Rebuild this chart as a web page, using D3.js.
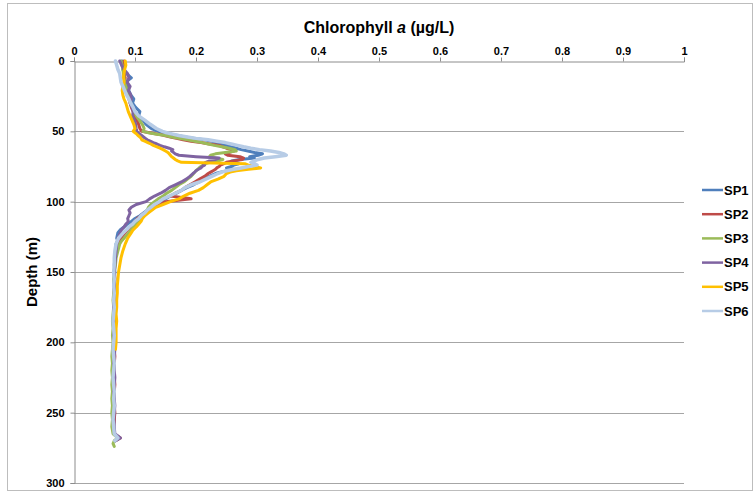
<!DOCTYPE html>
<html>
<head>
<meta charset="utf-8">
<script src="https://cdn.jsdelivr.net/npm/d3@7"></script>
<style>
  html, body { margin: 0; padding: 0; background: #fff; }
  svg text { font-family: Arial, "Liberation Sans", sans-serif; font-weight: bold; fill: #000; }
</style>
</head>
<body>
<svg id="chart" width="756" height="494"></svg>
<script>
// ---- data ----
const depth = [0,3,6,9,12,15,18,21,24,27,30,33,36,39,42,45,48,
  50,51,52,53,54,55,56,57,58,59,60,61,62,63,64,65,66,67,68,69,70,71,72,73,74,75,76,77,78,79,80,
  82,84,86,88,90,92,94,96,98,100,102,104,106,108,110,112,114,116,118,120,122,124,126,128,130,
  135,140,145,150,155,160,165,170,175,180,185,190,195,200,205,210,215,220,225,230,235,240,245,250,255,260,265,268,270,272,274];

const seriesNames = ["SP1","SP2","SP3","SP4","SP5","SP6"];
const seriesColors = ["#4F7FBC","#BE4B48","#9BBB59","#7F63A1","#FFC000","#B7CCE6"];

const sp1 = [0.079,0.081,0.080,0.086,0.094,0.085,0.088,0.090,0.093,0.098,0.096,0.101,0.108,0.106,0.113,0.118,0.127,
  0.138,0.146,0.158,0.170,0.182,0.198,0.214,0.226,0.232,0.243,0.251,0.258,0.266,0.274,0.285,0.296,0.309,0.302,0.288,0.296,0.272,0.258,0.265,0.270,0.262,0.258,0.250,0.262,0.252,0.240,0.232,
  0.222,0.214,0.205,0.196,0.185,0.176,0.168,0.158,0.150,0.142,0.135,0.128,0.120,0.114,0.108,0.100,0.094,0.088,0.082,0.076,0.072,0.071,0.070,0.072,0.069,
  0.068,0.067,0.066,0.067,0.066,0.065,0.066,0.065,0.066,0.065,0.064,0.065,0.066,0.065,0.064,0.065,0.066,0.065,0.064,0.065,0.066,0.065,0.064,0.065,0.066,0.065,0.066,0.074,0.068,null,null];

const sp2 = [0.082,0.083,0.081,0.082,0.084,0.083,0.085,0.086,0.088,0.090,0.092,0.094,0.097,0.100,0.103,0.106,0.108,
  0.111,0.124,0.138,0.148,0.158,0.168,0.179,0.192,0.208,0.222,0.238,0.244,0.250,0.258,0.262,0.255,0.248,0.252,0.272,0.278,0.276,0.262,0.250,0.246,0.240,0.238,0.234,0.232,0.228,0.224,0.220,
  0.214,0.206,0.198,0.190,0.182,0.176,0.166,0.158,0.192,0.150,0.140,0.130,0.122,0.116,0.110,0.104,0.100,0.096,0.092,0.088,0.084,0.080,0.077,0.075,0.073,
  0.070,0.068,0.067,0.066,0.067,0.066,0.065,0.067,0.066,0.065,0.066,0.067,0.066,0.065,0.066,0.067,0.066,0.065,0.066,0.067,0.066,0.065,0.066,0.067,0.066,0.065,0.066,0.076,0.068,null,null];

const sp3 = [0.077,0.079,0.080,0.081,0.082,0.083,0.085,0.087,0.089,0.091,0.093,0.096,0.099,0.102,0.107,0.112,0.115,
  0.113,0.122,0.136,0.150,0.160,0.172,0.186,0.198,0.210,0.220,0.230,0.242,0.254,0.264,0.266,0.248,0.232,0.224,0.222,0.232,0.244,0.236,0.222,0.216,0.212,0.208,0.205,0.203,0.200,0.198,0.196,
  0.192,0.186,0.180,0.172,0.166,0.160,0.152,0.146,0.138,0.132,0.126,0.122,0.120,0.117,0.114,0.111,0.106,0.102,0.098,0.094,0.090,0.086,0.082,0.078,0.075,
  0.072,0.069,0.068,0.066,0.065,0.066,0.065,0.064,0.065,0.064,0.063,0.064,0.063,0.064,0.063,0.062,0.063,0.062,0.063,0.062,0.063,0.062,0.063,0.062,0.063,0.062,0.064,0.072,0.066,0.064,0.066];

const sp4 = [0.075,0.078,0.082,0.088,0.090,0.087,0.092,0.089,0.093,0.094,0.092,0.095,0.097,0.096,0.099,0.101,0.102,
  0.103,0.105,0.108,0.111,0.114,0.117,0.120,0.125,0.130,0.136,0.141,0.148,0.156,0.162,0.160,0.163,0.166,0.172,0.200,0.238,0.232,0.222,0.216,0.212,0.214,0.210,0.208,0.204,0.200,0.198,0.195,
  0.190,0.184,0.176,0.166,0.156,0.150,0.142,0.132,0.124,0.118,0.102,0.094,0.090,0.092,0.090,0.088,0.089,0.085,0.082,0.078,0.076,0.074,0.072,0.071,0.070,
  0.069,0.068,0.067,0.066,0.067,0.066,0.067,0.066,0.065,0.066,0.067,0.066,0.065,0.066,0.067,0.066,0.065,0.066,0.067,0.066,0.065,0.066,0.067,0.066,0.065,0.066,0.067,0.076,0.068,null,null];

const sp5 = [0.084,0.085,0.083,0.082,0.081,0.082,0.080,0.079,0.080,0.082,0.085,0.087,0.089,0.092,0.095,0.098,0.100,
  0.097,0.100,0.103,0.105,0.108,0.110,0.111,0.116,0.121,0.126,0.130,0.136,0.141,0.146,0.150,0.154,0.156,0.158,0.160,0.163,0.166,0.170,0.176,0.280,0.286,0.296,0.306,0.286,0.266,0.256,0.250,
  0.246,0.236,0.224,0.218,0.212,0.204,0.190,0.180,0.172,0.158,0.146,0.134,0.128,0.122,0.116,0.112,0.110,0.106,0.102,0.097,0.094,0.091,0.088,0.086,0.084,
  0.080,0.077,0.075,0.073,0.072,0.071,0.071,0.070,0.070,0.069,0.070,0.069,0.069,0.069,0.068,null,null,null,null,null,null,null,null,null,null,null,null,null,null,null,null];

const sp6 = [0.068,0.070,0.072,0.075,0.076,0.077,0.080,0.083,0.086,0.090,0.093,0.097,0.100,0.106,0.116,0.125,0.135,
  0.145,0.152,0.162,0.172,0.186,0.200,0.220,0.234,0.248,0.258,0.268,0.278,0.290,0.304,0.322,0.336,0.344,0.348,0.330,0.312,0.302,0.296,0.290,0.296,0.300,0.286,0.274,0.262,0.250,0.242,0.236,
  0.226,0.216,0.206,0.192,0.182,0.176,0.166,0.156,0.146,0.140,0.132,0.126,0.120,0.116,0.110,0.106,0.100,0.096,0.090,0.086,0.081,0.077,0.073,0.071,0.069,
  0.067,0.066,0.066,0.065,0.066,0.065,0.066,0.065,0.066,0.065,0.064,0.065,0.066,0.065,0.064,0.065,0.066,0.065,0.064,0.065,0.066,0.065,0.066,0.065,0.064,0.065,0.066,0.072,0.067,null,null];

const xTicks = [0,0.1,0.2,0.3,0.4,0.5,0.6,0.7,0.8,0.9,1];
const yTicks = [0,50,100,150,200,250,300];

// ---- chart ----
const svg = d3.select("#chart");
const pLeft = 74, pRight = 684, pTop = 61, pBottom = 483;
const x = d3.scaleLinear().domain([0,1]).range([pLeft,pRight]);
const y = d3.scaleLinear().domain([0,300]).range([pTop,pBottom]);

// outer frame
svg.append("rect").attr("x",7.5).attr("y",3.5).attr("width",745).attr("height",487)
  .attr("fill","none").attr("stroke","#bdbdbd");

// gridlines
svg.append("g").selectAll("line").data(yTicks.slice(1)).join("line")
  .attr("x1",pLeft).attr("x2",pRight)
  .attr("y1",d=>Math.round(y(d))+0.5).attr("y2",d=>Math.round(y(d))+0.5)
  .attr("stroke","#a6a6a6").attr("stroke-width",1);

// top axis
const xAxis = d3.axisTop(x).tickValues(xTicks).tickSize(4).tickPadding(3)
  .tickFormat(d => d3.format("")(d));
const gx = svg.append("g").attr("transform",`translate(0,${pTop+0.5})`).call(xAxis);
gx.select(".domain").attr("stroke","#8c8c8c");
gx.selectAll(".tick line").attr("stroke","#8c8c8c");
gx.selectAll(".tick text").attr("font-size",11).attr("font-weight","bold")
  .attr("font-family","Arial, 'Liberation Sans', sans-serif").attr("fill","#000");

// left axis
const yAxis = d3.axisLeft(y).tickValues(yTicks).tickSize(4).tickPadding(6);
const gy = svg.append("g").attr("transform",`translate(${pLeft+0.5},0)`).call(yAxis);
gy.select(".domain").attr("stroke","#8c8c8c");
gy.selectAll(".tick line").attr("stroke","#8c8c8c");
gy.selectAll(".tick text").attr("font-size",11).attr("font-weight","bold")
  .attr("font-family","Arial, 'Liberation Sans', sans-serif").attr("fill","#000");

// series lines
const allSeries = [sp1,sp2,sp3,sp4,sp5,sp6];
const line = d3.line()
  .defined(d => d.v !== null)
  .x(d => x(d.v)).y(d => y(d.d));
allSeries.forEach((vals,i) => {
  const pts = depth.map((d,j) => ({d:d, v:vals[j]}));
  svg.append("path").datum(pts)
    .attr("d", line)
    .attr("fill","none")
    .attr("stroke", seriesColors[i])
    .attr("stroke-width", i===5 ? 3.5 : 3)
    .attr("stroke-linejoin","round")
    .attr("stroke-linecap","round");
});

// titles
const t = svg.append("text").attr("x",(pLeft+pRight)/2).attr("y",33)
  .attr("text-anchor","middle").attr("font-size",16);
t.append("tspan").text("Chlorophyll ");
t.append("tspan").attr("font-style","italic").text("a");
t.append("tspan").text(" (µg/L)");

svg.append("text").attr("transform",`translate(37,${(pTop+pBottom)/2}) rotate(-90)`)
  .attr("text-anchor","middle").attr("font-size",15).text("Depth (m)");

// legend
const lg = svg.append("g");
seriesNames.forEach((n,i) => {
  const ly = 190 + i*24.2;
  lg.append("line").attr("x1",702).attr("x2",723).attr("y1",ly).attr("y2",ly)
    .attr("stroke",seriesColors[i]).attr("stroke-width",2.5);
  lg.append("text").attr("x",724).attr("y",ly).attr("dy","0.35em")
    .attr("font-size",13).text(n);
});
</script>
</body>
</html>
